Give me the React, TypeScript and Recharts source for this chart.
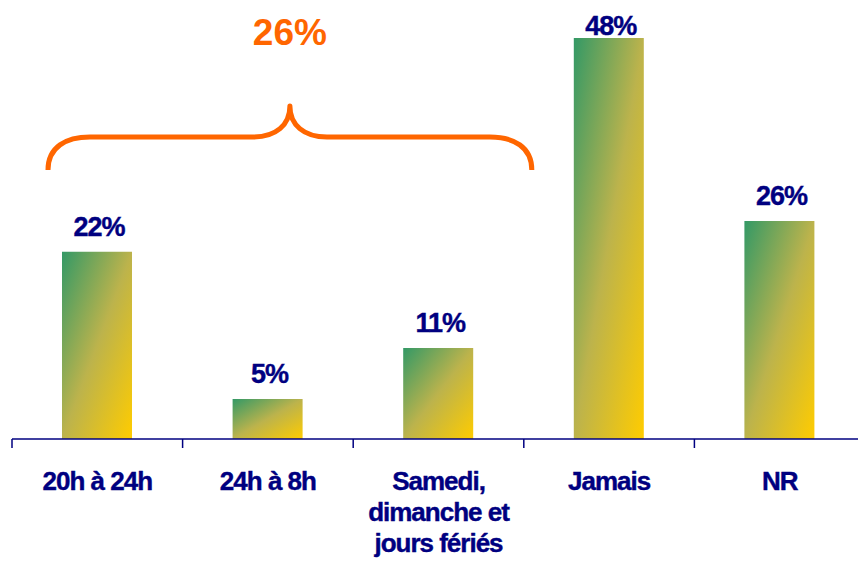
import { BarChart, Bar, XAxis, YAxis, LabelList } from "recharts";

const categories = ["20h à 24h", "24h à 8h", "Samedi,\ndimanche et\njours fériés", "Jamais", "NR"];
const shares = [22.4, 4.8, 10.9, 48, 26.1];
const groupTotal = "26%";

const data = categories.map((name, i) => ({ name, value: shares[i] }));

const W = 865;
const H = 561;
const LEFT = 12;
const BAND = (W - LEFT) / categories.length;
const NAVY = "#000080";
const ORANGE = "#ff6600";
const FONT = "'Liberation Sans', Arial, sans-serif";

const AxisTick = (props: any) => {
  const { x, y, payload, index } = props;
  const lines = String(payload.value).split("\n");
  const half = BAND / 2;
  return (
    <g>
      <line x1={x - half} x2={x - half} y1={y - 8} y2={y + 1} stroke={NAVY} strokeWidth={1.5} />
      {index === categories.length - 1 && (
        <line x1={x + half} x2={x + half} y1={y - 8} y2={y + 1} stroke={NAVY} strokeWidth={1.5} />
      )}
      <text
        textAnchor="middle"
        fill={NAVY}
        stroke={NAVY}
        strokeWidth={0.4}
        fontFamily={FONT}
        fontWeight="bold"
        fontSize={26}
        letterSpacing={-1}
      >
        {lines.map((l, i) => (
          <tspan key={i} x={x} y={y + 43 + i * 31}>
            {l}
          </tspan>
        ))}
      </text>
    </g>
  );
};

const ValueLabel = (props: any) => {
  const { x, y, width, value } = props;
  const baseline = Math.max(y - 16, 35);
  return (
    <text
      x={x + width / 2 + 2}
      y={baseline}
      textAnchor="middle"
      fill={NAVY}
      stroke={NAVY}
      strokeWidth={0.4}
      fontFamily={FONT}
      fontWeight="bold"
      fontSize={27}
      letterSpacing={-1}
    >
      {`${Math.round(value)}%`}
    </text>
  );
};

// brace over the first three categories
const bLeft = LEFT + 36;
const bRight = LEFT + BAND * 3 + 8;
const bMid = (bLeft + bRight) / 2;
const bTop = 106;
const bLine = 137;
const bEnd = 170;
const bracePath = [
  `M${bLeft},${bEnd}`,
  `C${bLeft},${bLine + 10} ${bLeft + 18},${bLine} ${bLeft + 42},${bLine}`,
  `L${bMid - 37},${bLine}`,
  `C${bMid - 14},${bLine} ${bMid},${bLine - 12} ${bMid},${bTop}`,
  `C${bMid},${bLine - 12} ${bMid + 14},${bLine} ${bMid + 37},${bLine}`,
  `L${bRight - 42},${bLine}`,
  `C${bRight - 18},${bLine} ${bRight},${bLine + 10} ${bRight},${bEnd}`,
].join(" ");

export default function App() {
  return (
    <div style={{ position: "absolute", left: 0, top: 0, width: 858, height: H, overflow: "hidden", background: "#fff" }}>
      <BarChart width={W} height={H} data={data} margin={{ top: 38, right: 0, bottom: 0, left: LEFT }} barCategoryGap={0}>
        <defs>
          <linearGradient id="barFill" x1="0" y1="0" x2="1" y2="1">
            <stop offset="0%" stopColor="#339966" />
            <stop offset="50%" stopColor="#bcb34c" />
            <stop offset="100%" stopColor="#ffcc00" />
          </linearGradient>
        </defs>
        <XAxis
          dataKey="name"
          height={122}
          interval={0}
          axisLine={{ stroke: NAVY, strokeWidth: 1.5 }}
          tickLine={false}
          tick={<AxisTick />}
        />
        <YAxis hide domain={[0, 48]} />
        <Bar dataKey="value" barSize={70} fill="url(#barFill)" isAnimationActive={false}>
          <LabelList dataKey="value" content={<ValueLabel />} />
        </Bar>
      </BarChart>
      <svg width={858} height={200} style={{ position: "absolute", left: 0, top: 0, pointerEvents: "none" }}>
        <text x={bMid} y={45} textAnchor="middle" fill={ORANGE} fontFamily={FONT} fontWeight="bold" fontSize={37}>
          {groupTotal}
        </text>
        <path d={bracePath} fill="none" stroke={ORANGE} strokeWidth={5} strokeLinejoin="round" />
      </svg>
    </div>
  );
}
